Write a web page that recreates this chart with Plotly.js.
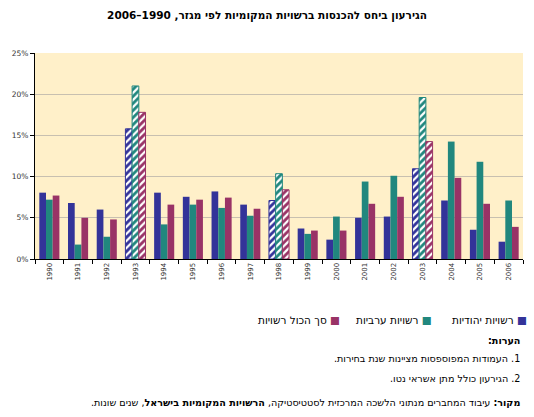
<!DOCTYPE html>
<html>
<head>
<meta charset="utf-8">
<script src="https://cdn.plot.ly/plotly-3.0.1.min.js"></script>
<style>
  html, body { margin: 0; padding: 0; background: #fff; }
  #chart { width: 534px; height: 417px; }
</style>
</head>
<body>
<div id="chart"></div>
<script>
var years = ['1990', '1991', '1992', '1993', '1994', '1995', '1996', '1997', '1998',
             '1999', '2000', '2001', '2002', '2003', '2004', '2005', '2006'];
var electionYears = ['1993', '1998', '2003'];

var jewish = [8.05, 6.8, 6.0, 15.8, 8.05, 7.55, 8.2, 6.6, 7.1, 3.7, 2.35, 5.0, 5.15, 10.95, 7.1, 3.55, 2.1];
var arab   = [7.2, 1.75, 2.7, 21.0, 4.2, 6.6, 6.2, 5.25, 10.35, 3.05, 5.15, 9.4, 10.1, 19.6, 14.25, 11.8, 7.1];
var total  = [7.7, 5.0, 4.8, 17.8, 6.6, 7.2, 7.45, 6.1, 8.4, 3.45, 3.45, 6.7, 7.55, 14.25, 9.85, 6.7, 3.9];

var names = ['רשויות יהודיות', 'רשויות ערביות', 'סך הכול רשויות'];
var colors = ['#333399', '#21877e', '#993366'];

var RLM = '\u200F';
var font = 'DejaVu Sans, sans-serif';

function makeTrace(values, i) {
  var isElection = years.map(function (y) { return electionYears.indexOf(y) >= 0; });
  return {
    x: years,
    y: values,
    name: names[i],
    type: 'bar',
    marker: {
      color: colors[i],
      line: {
        color: colors[i],
        width: isElection.map(function (e) { return e ? 1 : 0; })
      },
      pattern: {
        shape: isElection.map(function (e) { return e ? '/' : ''; }),
        fgcolor: colors[i],
        bgcolor: '#ffffff',
        fillmode: 'replace',
        size: 5,
        solidity: 0.55
      }
    }
  };
}

var data = [makeTrace(jewish, 0), makeTrace(arab, 1), makeTrace(total, 2)];

// legend drawn as right-to-left text with coloured squares
var legendAnn = [
  {x: 1.012, text: names[0] + ' <span style="color:' + colors[0] + '">■</span>'},
  {x: 0.818, text: names[1] + ' <span style="color:' + colors[1] + '">■</span>'},
  {x: 0.629, text: names[2] + ' <span style="color:' + colors[2] + '">■</span>'}
].map(function (a) {
  return {
    xref: 'paper', yref: 'paper', x: a.x, y: -0.296,
    xanchor: 'right', yanchor: 'middle', showarrow: false,
    text: a.text, font: {family: font, size: 10.5, color: '#000'}
  };
});

var notes = [
  {y: -0.398, text: '<b>הערות:' + RLM + '</b>'},
  {y: -0.481, text: RLM + '1. העמודות המפוספסות מציינות שנת בחירות.' + RLM},
  {y: -0.578, text: RLM + '2. הגירעון כולל מתן אשראי נטו.' + RLM},
  {y: -0.699, text: '<b>מקור:</b> עיבוד המחברים מנתוני הלשכה המרכזית לסטטיסטיקה, <b>הרשויות המקומיות בישראל</b>, שנים שונות.' + RLM}
].map(function (a) {
  return {
    xref: 'paper', yref: 'paper', x: 0.998, y: a.y,
    xanchor: 'right', yanchor: 'middle', showarrow: false,
    text: a.text, font: {family: font, size: 9.6, color: '#000'}
  };
});

var layout = {
  width: 534,
  height: 417,
  margin: {l: 35, r: 11, t: 53, b: 158},
  paper_bgcolor: '#ffffff',
  plot_bgcolor: '#fff0c9',
  showlegend: false,
  barmode: 'group',
  bargap: 0.3,
  bargroupgap: 0,
  font: {family: font, size: 8, color: '#000'},
  title: {
    text: '<b>הגירעון ביחס להכנסות ברשויות המקומיות לפי מגזר, 1990–2006</b>',
    x: 0.5, xanchor: 'center', y: 0.964, yanchor: 'middle',
    font: {family: font, size: 10.5, color: '#000'}
  },
  xaxis: {
    type: 'category',
    tickangle: -90,
    tickfont: {size: 7, color: '#333'},
    ticks: 'outside',
    tickson: 'boundaries',
    ticklen: 4,
    tickcolor: '#000',
    showline: true,
    linecolor: '#000',
    linewidth: 1,
    showgrid: false,
    fixedrange: true
  },
  yaxis: {
    range: [0, 25],
    dtick: 5,
    ticksuffix: '%',
    tickfont: {size: 7.5, color: '#333'},
    ticks: 'outside',
    ticklen: 4,
    tickcolor: '#000',
    showline: true,
    linecolor: '#000',
    linewidth: 1,
    showgrid: true,
    gridcolor: '#c8c0b0',
    zeroline: false,
    fixedrange: true
  },
  annotations: legendAnn.concat(notes)
};

Plotly.newPlot('chart', data, layout, {displayModeBar: false, staticPlot: true});
</script>
</body>
</html>
